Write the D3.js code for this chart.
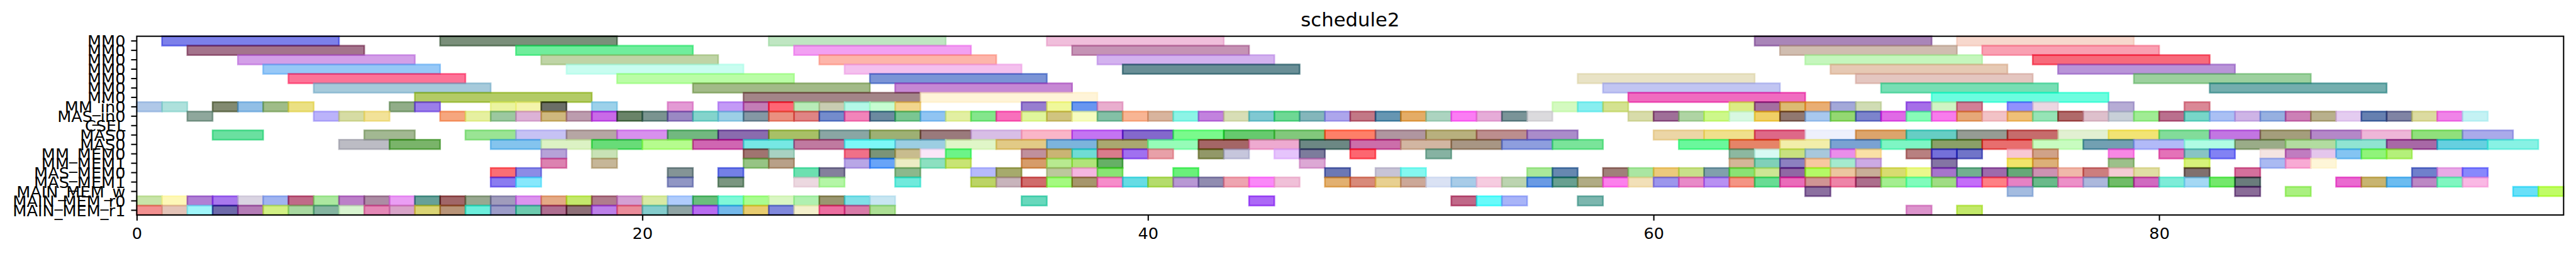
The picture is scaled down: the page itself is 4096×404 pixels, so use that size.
<!DOCTYPE html>
<html><head><meta charset="utf-8">
<script src="https://cdn.jsdelivr.net/npm/d3@7"></script>
<style>html,body{margin:0;padding:0;background:#fff;overflow:hidden}svg{display:block}</style>
</head><body>
<svg id="chart"></svg>
<script>
const title = "schedule2";
const rowLabels = ["MM0","MM0","MM0","MM0","MM0","MM0","MM0","MM_in0","MAS_in0","CSEL","MAS0","MAS0",
  "MM_MEM0","MM_MEM1","MAS_MEM0","MAS_MEM1","MAIN_MEM_w","MAIN_MEM_r0","MAIN_MEM_r1"];
const durations = [7,7,7,7,7,7,7,1,1,1,2,2,1,1,1,1,1,1,1];
const xTicks = [0,20,40,60,80];
const xMax = 96;

// ---- start times per row ----
const mm0aStart = [1,12,25,36,64,72];
const mm0bStart = [2,15,26,37,65,73];
const mm0cStart = [4,16,27,38,66,75];
const mm0dStart = [5,17,28,39,67,76];
const mm0eStart = [6,19,29,57,68,79];
const mm0fStart = [7,22,30,58,69,82];
const mm0gStart = [11,24,31,59,71];
const mmIn0Start = [0,1,3,4,5,6,10,11,14,15,16,18,21,23,24,25,26,27,28,29,30,35,36,37,38,56,57,58,63,64,65,66,67,68,70,71,72,74,75,78,81];
const masIn0Start = [2,7,8,9,12,13,14,15,16,17,18,19,20,21,22,23,24,25,26,27,28,29,30,31,32,33,34,35,36,37,38,39,40,41,42,43,44,45,46,47,48,49,50,51,52,53,54,55,
  59,60,61,62,63,64,65,66,67,68,69,70,71,72,73,74,75,76,77,78,79,80,81,82,83,84,85,86,87,88,89,90,91,92];
const cselStart = [];
const mas0aStart = [3,9,13,15,17,19,21,23,25,27,29,31,33,35,37,39,41,43,45,47,49,51,53,55,60,62,64,66,68,70,72,74,76,78,80,82,84,86,88,90,92];
const mas0bStart = [8,10,14,16,18,20,22,24,26,28,30,32,34,36,38,40,42,44,46,48,50,52,54,56,61,63,65,67,69,71,73,75,77,79,81,83,85,87,89,91,93];
const mmMem0Start = [16,18,24,25,28,29,30,31,32,35,36,37,38,39,40,42,43,45,46,48,51,63,64,65,66,67,68,70,71,72,74,75,78,80,81,82,84,85,86,87,88,89];
const mmMem1Start = [16,18,24,25,28,29,30,31,32,35,36,37,38,46,63,64,65,66,67,68,71,74,75,78,81,84,85,86];
const masMem0Start = [14,15,21,23,26,27,30,33,34,36,37,38,41,47,49,50,55,56,58,59,60,61,62,63,64,65,66,67,68,69,70,71,72,73,74,75,76,77,78,79,81,83,90,91,92];
const masMem1Start = [14,15,21,23,26,27,30,33,34,35,36,37,38,39,40,41,42,43,44,45,47,48,49,50,51,52,53,54,55,56,57,58,59,60,61,62,63,64,65,66,67,68,69,70,71,72,73,74,75,76,77,78,79,80,81,82,83,87,88,89,90,91,92];
const mainMemWStart = [66,74,83,85,94,95];
const mainMemR0Start = [0,1,2,3,4,5,6,7,8,9,10,11,12,13,14,15,16,17,18,19,20,21,22,23,24,25,26,27,28,29,35,44,52,53,54,57];
const mainMemR1Start = [0,1,2,3,4,5,6,7,8,9,10,11,12,13,14,15,16,17,18,19,20,21,22,23,24,25,26,27,28,29,70,72];

// ---- bar colours (as seen on white) per row ----
const mm0aColor = ["#7c80ea","#7a8f7a","#bfe6c2","#f0bedb","#a985b8","#f7d8cd"];
const mm0bColor = ["#a4748c","#70ed9c","#f2a0f2","#c593b5","#d0bdb0","#f9a0b2"];
const mm0cColor = ["#d39fe8","#bfd4a6","#fdb5aa","#d3b2ef","#c5f6bd","#f76a7b"];
const mm0dColor = ["#97c8f7","#c8fdf0","#f4c0ee","#698e96","#e6c9b4","#b994d8"];
const mm0eColor = ["#fd7397","#bafda6","#7b94d6","#e9e3c6","#e4c6c0","#9cd09e"];
const mm0fColor = ["#a6cadb","#a2ba88","#c688d4","#c1c5f2","#77deb4","#74aeae"];
const mm0gColor = ["#b3cb60","#a38588","#fff4d8","#f06cc0","#6cfddf"];
const mmIn0Color = ["#b0c8e8","#aee1dc","#828a70","#92bfe6","#9fbc88","#ebe083","#91ad88","#9b7ee9","#ebf4a0","#f4f4ac","#6b6e65",
  "#9cd1ea","#e39ad4","#c39af6","#c37db6","#fe6474","#b8ebb8","#c8ccb2","#b3f8e8","#c6fdd1","#f2d68e","#977ecf","#f0f89a","#6896f0",
  "#e9aece","#d4fac0","#88eef0","#d4e290","#dcec84","#a46fa0","#dcbb72","#e9ae73","#a3a8d8","#d0dcb4","#a66fe8","#d0f4c4","#d27f96",
  "#9191fd","#ecd7e2","#b6acd5","#da8896"];
const masIn0Color = ["#8fa79c","#bbb3fa","#d6dca4","#f2e298",
  "#f6a67e","#e6f0a0","#9cc8a0","#dcb2d6","#cfb87e","#bc9cae","#c96ae8","#6a8468","#7a9490","#9a89c3","#84d4cc","#9ccfe6","#8498a4",
  "#ea9080","#e08484","#748ccc","#f284ba","#6c8aa0","#7ac692","#90c4f2","#e2efa2","#84e68c","#f870bc","#e0f69c","#d0c480","#f6fcc0",
  "#84c0a6","#f8b594","#d8b49e","#8cf4e6","#c282de","#d8deb6","#80c8d2","#6ed894","#84b6bb","#ada6ec","#c27886","#6496b2","#e4ac66",
  "#acd4c0","#fb7cf4","#e6acd8","#7a9498","#dbdadd",
  "#d8dcaa","#9f6f98","#afd4a4","#cdf88a","#d8f8e2","#f0d066","#917870","#a8c8ee","#94d872","#7c84cc","#e06ae6","#88fcb8","#f87cec",
  "#e6a878","#f2c2c6","#eec078","#96e4b6","#b06a6a","#dec0cc","#c8d0d8","#a0ec94","#ba708e","#78d6c8","#aac0f4","#ceb4e6","#96b0e0",
  "#cc80b6","#b8b08c","#e4ccf0","#6680b0","#8084a4","#dcdba0","#f084e8","#c4f2f4"];
const cselColor = [];
const mas0aColor = ["#6ae0a0","#a2b892","#9ae494","#c6c2f4","#b6a6a4","#d890ee","#72b880","#8a6cae","#a8c064","#8aa6a4","#9eb074",
  "#9a7a7c","#d8bee6","#fab6c8","#c474f2","#8468cc","#7afa8c","#66ca6e","#82c87c","#fe8068","#b096a0","#b8b07e","#bc8e8e","#aa8cca",
  "#ecd6a6","#f0e08c","#de6888","#eef0fc","#dca46c","#66cec4","#969c94","#c66c6c","#e2f0d2","#f2e474","#82dc9a","#c276e2","#a49e7c",
  "#b488c8","#eeb6d8","#90e07c","#aaaaea"];
const mas0bColor = ["#bcbcc4","#7ab46a","#84c4ee","#dcf2c4","#68dc78","#b6fc8e","#d066b2","#76e8e4","#c07aa0","#7cf8f8","#9ccee2",
  "#e0f6c8","#e2ca86","#7cb4dc","#aaa870","#96fcb8","#a46464","#eeaad0","#6c8884","#cc6eaa","#d2b6a2","#a89684","#8e9ede","#7ae49a",
  "#6af89c","#e68468","#f2eeaa","#7aa2d2","#7ef6c4","#8aa068","#e86e6e","#c8fcc0","#72a0b2","#b2baf8","#b0fce4","#9aac88","#b2dca0",
  "#90e4d2","#a868a6","#66d0e0","#88f2e4"];
const mmMem0Color = ["#b6a2d8","#c8e2b6","#a07470","#a8d2c2","#f07088","#7a9478","#c8bc8e","#fae6f8","#6cf488","#c0909c","#cab474",
  "#70dcd4","#d87c8c","#a070f0","#e8a0a8","#929868","#c6c6dc","#e6c4fc","#7c7c9c","#fd6670","#86b2a2","#8cb8a0","#d8faf4","#c8e080",
  "#a8c8dc","#ea8eea","#fae0a6","#b88080","#7470da","#7074c8","#f8c8d4","#d0a288","#f888e4","#e472b8","#88c4c4","#8282f4","#f4e4e2",
  "#c07cc0","#e4c6ec","#84c4f2","#90f47a","#b4f07a"];
const mmMem1Color = ["#dc82b0","#c6b698","#96c484","#b8a088","#b8a6e6","#68a4f8","#ececc4","#8ce0c0","#c8e474","#d69c6a","#b8ea90",
  "#b0e47a","#66b066","#dca8d4","#d4b698","#80d0b8","#8c80c0","#f8c8a0","#a4eace","#ccaae4","#8474a4","#f2e46a","#dcb078","#9cc08a",
  "#d6f27a","#aabaf2","#f8aad4","#fef6d8"];
const masMem0Color = ["#fa6e74","#8c8ce6","#849496","#7480e6","#6ce0b0","#84809c","#8cb88c","#b6bafc","#a6aa6c","#bcc89c","#f4b6e0",
  "#88e474","#6af07a","#6c78b4","#c8c4d6","#84f8f0","#aae89a","#6488b0","#a0807a","#aae6a2","#ecca7c","#c8e08a","#80a0ac","#8ae274",
  "#cce694","#9068a4","#b4fa5c","#ecc6a0","#c8ae98","#d8dc70","#eaf88c","#a674cc","#72b090","#9e6aac","#64a878","#cc92b2","#f0b8aa",
  "#cc7e7e","#f4ccd4","#e0dea4","#80706e","#d4709c","#7080cc","#e8aae6","#8888fc"];
const masMem1Color = ["#8a7cf0","#86e8fc","#9096c4","#7a9680","#ecd8e0","#b4f6a6","#70eadc","#bcd464","#c8b4bc","#d06c6c","#a4fa80",
  "#a6966c","#f68cca","#64dce4","#b4dc6c","#b898d4","#908cb0","#eea4b0","#fa88f8","#f0c0d8","#e2b070","#d88a7a","#e8d090","#cca898",
  "#dae2f4","#a8cce8","#f6cce0","#bcd4b0","#6a9ae4","#68a090","#b0ac84","#fc80ec","#f2e0b8","#9c96ec","#e88ac8","#b890f2","#f49484",
  "#68dc94","#ea6cba","#d09494","#ee84a8","#ac6e8c","#a4ee90","#80fcbc","#a0dc84","#c46ef8","#fe8084","#e682c4","#6aba8a","#ec90c8",
  "#acb8dc","#70bc68","#d06ac0","#7eecd8","#a4d8f4","#74e86c","#6a7c7c","#ea6ad0","#c8b470","#6cbcf0","#bc88c4","#80f6c0","#fab8e4"];
const mainMemWColor = ["#8c70a0","#a4bce0","#8a6c98","#aaf080","#68e0f8","#c0fc5c"];
const mainMemR0Color = ["#c8e4a8","#fef8b8","#b080d4","#a878ee","#dad4e2","#a0b4f0","#c06a88","#ace8a0","#bc80c8","#ac8ca4","#ea9ef4",
  "#64a098","#a06468","#98a890","#a09cbc","#dc94ee","#e4aa86","#c4e86c","#b07c8c","#d4a0d4","#d8eaa4","#b0ccfc","#6abe7c","#80f8d8",
  "#aafc90","#daf6c4","#b0f0b0","#9a9670","#80e0e8","#c8e6f2","#68d8bc","#ac68f6","#c06888","#68fafa","#a8b4f8","#7cb6ae"];
const mainMemR1Color = ["#f29090","#e4c4b8","#a0f6fa","#6e6aaa","#b47cb6","#d2f084","#a8d8a0","#84b4a0","#d8f4d0","#e488b6","#d8a4c8",
  "#dad474","#b89478","#6ceedc","#9c9cc8","#6ccaae","#ae6e90","#8e7078","#bc80e8","#ea8c9a","#84cccc","#90a4a4","#b86cf0","#74b8ea",
  "#e8cc70","#8088dc","#f4f0cc","#ec6ea0","#d87aa8","#acdf94","#dc94cc","#c2e86a"];

const rowStarts = [mm0aStart,mm0bStart,mm0cStart,mm0dStart,mm0eStart,mm0fStart,mm0gStart,mmIn0Start,masIn0Start,cselStart,
  mas0aStart,mas0bStart,mmMem0Start,mmMem1Start,masMem0Start,masMem1Start,mainMemWStart,mainMemR0Start,mainMemR1Start];
const rowColors = [mm0aColor,mm0bColor,mm0cColor,mm0dColor,mm0eColor,mm0fColor,mm0gColor,mmIn0Color,masIn0Color,cselColor,
  mas0aColor,mas0bColor,mmMem0Color,mmMem1Color,masMem0Color,masMem1Color,mainMemWColor,mainMemR0Color,mainMemR1Color];

// ---- layout (reference pixel space, scaled by viewBox) ----
const W = 4438, H = 438;
const plot = {left: 234.4, right: 4418, top: 62.5, bottom: 370.7};
const ALPHA = 0.6;
const FONT = "DejaVu Sans, sans-serif";
const tickLen = 9.72, tickW = 2.22, labelSize = 27.8;

const svg = d3.select("#chart")
  .attr("width", 4096).attr("height", 404)
  .attr("viewBox", `0 0 ${W} ${H}`);

const x = d3.scaleLinear().domain([0, xMax]).range([plot.left, plot.right]);
const y = d3.scaleBand().domain(d3.range(rowLabels.length)).range([plot.top, plot.bottom]).padding(0);

function baseColor(hex) {
  const c = d3.rgb(hex);
  const f = v => Math.max(0, Math.min(255, (v - 255 * (1 - ALPHA)) / ALPHA));
  return d3.rgb(f(c.r), f(c.g), f(c.b)).formatHex();
}

const bars = [];
rowStarts.forEach((starts, r) => {
  if (starts.length !== rowColors[r].length) console.warn("length mismatch row", r, starts.length, rowColors[r].length);
  starts.forEach((s, i) => bars.push({row: r, start: s, dur: durations[r], color: baseColor(rowColors[r][i] || "#cccccc")}));
});

const clipId = "plotclip";
svg.append("defs").append("clipPath").attr("id", clipId)
  .append("rect").attr("x", plot.left - 2).attr("y", plot.top - 2)
  .attr("width", plot.right - plot.left + 4).attr("height", plot.bottom - plot.top + 4);

svg.append("g").attr("clip-path", `url(#${clipId})`)
  .selectAll("rect").data(bars).join("rect")
  .attr("x", d => x(d.start))
  .attr("width", d => x(d.start + d.dur) - x(d.start))
  .attr("y", d => y(d.row))
  .attr("height", y.bandwidth())
  .attr("fill", d => d.color).attr("fill-opacity", ALPHA)
  .attr("stroke", d => d.color).attr("stroke-opacity", ALPHA)
  .attr("stroke-width", 2.78);

// frame (spines)
svg.append("rect")
  .attr("x", plot.left).attr("y", plot.top)
  .attr("width", plot.right - plot.left).attr("height", plot.bottom - plot.top)
  .attr("fill", "none").attr("stroke", "#000").attr("stroke-width", tickW);

// x axis
const xAxis = svg.append("g").attr("transform", `translate(0,${plot.bottom})`)
  .call(d3.axisBottom(x).tickValues(xTicks).tickFormat(d3.format("d")).tickSize(tickLen).tickSizeOuter(0));
xAxis.select(".domain").remove();
xAxis.selectAll(".tick line").attr("stroke", "#000").attr("stroke-width", tickW);
xAxis.selectAll(".tick text").attr("y", 41.6).attr("dy", null)
  .attr("font-family", FONT).attr("font-size", labelSize).attr("fill", "#000");

// y axis
const yAxis = svg.append("g").attr("transform", `translate(${plot.left},0)`)
  .call(d3.axisLeft(y).tickFormat(i => rowLabels[i]).tickSize(tickLen).tickSizeOuter(0).tickPadding(tickLen));
yAxis.select(".domain").remove();
yAxis.selectAll(".tick line").attr("stroke", "#000").attr("stroke-width", tickW);
yAxis.selectAll(".tick text").attr("dy", "0.36em")
  .attr("font-family", FONT).attr("font-size", labelSize).attr("fill", "#000");

// title
svg.append("text")
  .attr("x", (plot.left + plot.right) / 2).attr("y", 45.8)
  .attr("text-anchor", "middle")
  .attr("font-family", FONT).attr("font-size", 33.3).attr("fill", "#000")
  .text(title);
</script>
</body></html>
